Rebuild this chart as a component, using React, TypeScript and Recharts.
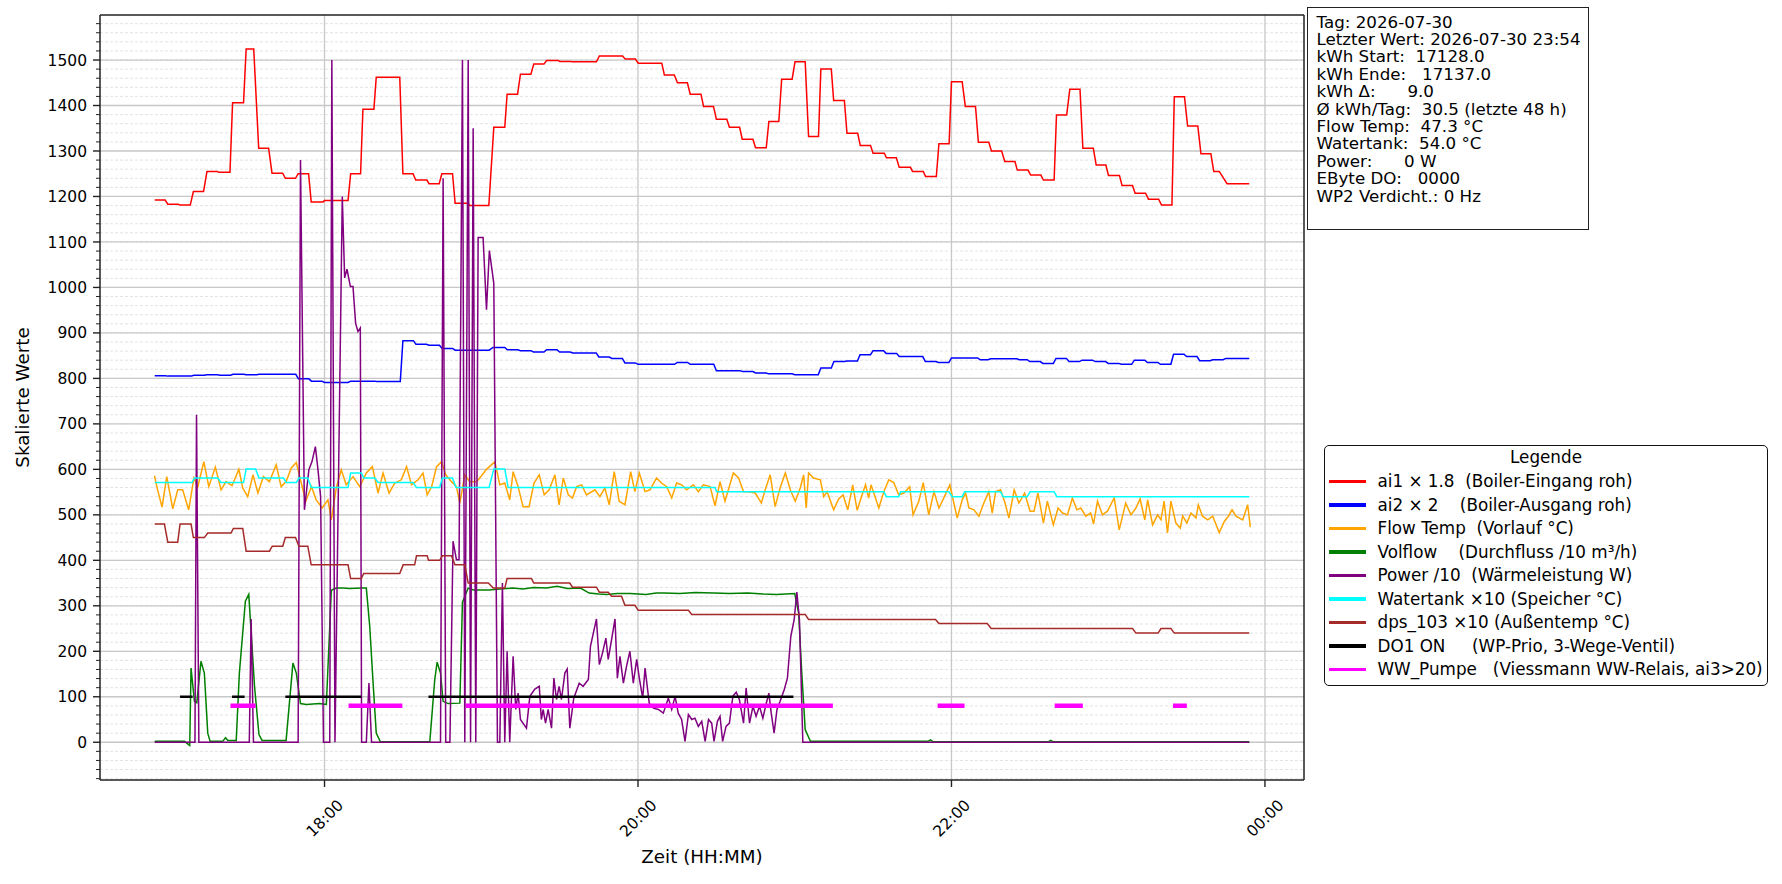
import { CartesianGrid, Legend, Line, LineChart, ReferenceLine, XAxis, YAxis } from "recharts";

// minutes since midnight, value
const boilerIn = [
  [1015, 1192], [1019, 1192], [1020, 1183], [1024, 1183], [1024.5, 1181], [1028.6, 1181], [1029.8, 1211], [1033.7, 1211],
  [1035, 1255], [1039, 1255], [1039.5, 1253], [1043.8, 1253], [1044.8, 1406], [1049, 1406], [1050, 1524], [1052.9, 1524],
  [1054.8, 1306], [1058.6, 1306], [1059.9, 1251], [1064, 1251], [1065, 1240], [1068.9, 1240], [1069.9, 1250], [1073.9, 1250],
  [1074.9, 1188], [1079.4, 1188], [1080, 1191], [1089, 1191], [1090, 1250], [1093.8, 1250], [1094.7, 1392], [1098.9, 1392],
  [1099.8, 1462], [1108.8, 1462], [1110, 1250], [1113.9, 1250], [1114.9, 1236], [1119.2, 1236], [1120, 1228], [1123.9, 1228],
  [1124.9, 1250], [1129, 1250], [1130, 1185], [1135, 1185], [1135.6, 1180], [1142.9, 1180], [1144.8, 1352], [1149, 1352],
  [1149.9, 1425], [1153.9, 1425], [1155, 1469], [1159, 1469], [1160.1, 1491], [1164, 1491], [1165, 1499], [1169.5, 1499],
  [1170, 1497], [1174.2, 1497], [1174.7, 1496], [1184.1, 1496], [1185.2, 1509], [1194.1, 1509], [1195.1, 1502], [1199, 1502],
  [1200.1, 1493], [1209.1, 1493], [1210.1, 1467], [1213.9, 1467], [1215.1, 1450], [1218.9, 1450], [1220, 1425], [1224.1, 1425],
  [1225.1, 1398], [1228.9, 1398], [1230, 1370], [1234, 1370], [1235, 1352], [1238.9, 1352], [1239.9, 1326], [1244, 1326],
  [1245, 1307], [1249.1, 1307], [1250.1, 1365], [1253.9, 1365], [1255, 1458], [1259, 1458], [1260.1, 1496], [1264, 1496],
  [1265.3, 1332], [1269.1, 1332], [1270, 1480], [1274, 1480], [1274.9, 1411], [1279, 1411], [1280, 1339], [1284.1, 1339],
  [1285.1, 1312], [1289, 1312], [1290, 1295], [1294.3, 1295], [1295.1, 1285], [1298.9, 1285], [1300, 1264], [1304.3, 1264],
  [1305.1, 1255], [1309.2, 1255], [1310.1, 1244], [1314.2, 1244], [1315.2, 1316], [1319.1, 1316], [1320, 1452], [1324.1, 1452],
  [1325.3, 1398], [1329.2, 1398], [1330.3, 1319], [1334.3, 1319], [1335.3, 1300], [1339.2, 1300], [1340.4, 1277], [1344.3, 1277],
  [1345.2, 1258], [1349.3, 1258], [1350.3, 1247], [1354.2, 1247], [1355.2, 1236], [1359.3, 1236], [1360.2, 1379], [1364.1, 1379],
  [1365.3, 1436], [1369.2, 1436], [1370.3, 1306], [1374.3, 1306], [1375.4, 1269], [1379.1, 1269], [1380.1, 1246], [1384.3, 1246],
  [1385.3, 1224], [1389.3, 1224], [1390.3, 1207], [1394.3, 1207], [1395.4, 1194], [1399.3, 1194], [1400.4, 1181], [1404.4, 1181],
  [1405.3, 1419], [1409.2, 1419], [1410.4, 1355], [1414.3, 1355], [1415.5, 1294], [1419.3, 1294], [1420.4, 1255], [1422.5, 1255],
  [1425.5, 1228], [1434, 1228],
];

const boilerOut = [
  [1015, 806], [1019, 806], [1020, 805], [1029, 805], [1030, 807], [1034, 807], [1035, 808], [1039, 808], [1040, 807], [1044, 807],
  [1045, 809], [1049, 809], [1050, 808], [1054, 808], [1055, 809], [1069, 809], [1070, 799], [1074, 799], [1075, 794], [1079, 794],
  [1080, 791], [1089, 791], [1090, 794], [1099, 794], [1100, 793], [1109, 793], [1110, 883], [1114, 883], [1115, 875], [1119, 875],
  [1120, 873], [1124, 873], [1125, 866], [1129, 866], [1130, 862], [1143, 862], [1144.5, 868], [1149, 868], [1150, 863], [1154, 863],
  [1155, 861], [1159, 861], [1160, 858], [1164, 858], [1165, 863], [1169, 863], [1170, 858], [1174, 858], [1175, 856], [1184, 856],
  [1185, 847], [1189, 847], [1190, 844], [1194, 844], [1195, 834], [1199, 834], [1200, 831], [1214, 831], [1215, 835], [1219, 835],
  [1220, 831], [1229, 831], [1230, 817], [1239, 817], [1240, 815], [1244, 815], [1245, 812], [1249, 812], [1250, 810], [1259, 810],
  [1260, 808], [1269, 808], [1270, 823], [1274, 823], [1275, 837], [1279, 837], [1280, 838], [1284, 838], [1285, 852], [1289, 852],
  [1290, 861], [1294, 861], [1295, 855], [1299, 855], [1300, 848], [1309, 848], [1310, 837], [1314, 837], [1315, 835], [1319, 835],
  [1320, 845], [1330, 845], [1331, 841], [1334, 841], [1335, 843], [1345, 843], [1346, 841], [1349, 841], [1350, 837], [1354, 837],
  [1355, 833], [1359, 833], [1360, 844], [1364, 844], [1365, 837], [1369, 837], [1370, 840], [1374, 840], [1375, 837], [1379, 837],
  [1380, 833], [1384, 833], [1385, 831], [1389, 831], [1390, 840], [1394, 840], [1395, 835], [1399, 835], [1400, 831], [1404, 831],
  [1405, 853], [1409, 853], [1410, 848], [1414, 848], [1415, 839], [1419, 839], [1420, 841], [1424, 841], [1425, 844], [1434, 844],
];

const flowTemp = [
  [1014.9, 586], [1016.1, 555], [1017.8, 517], [1019.6, 584], [1021.9, 513], [1023.8, 555], [1025.7, 555], [1028, 511],
  [1030, 581], [1031.5, 562], [1033.8, 617], [1035.7, 562], [1038.2, 605], [1040.4, 555], [1042.3, 573], [1044.6, 564],
  [1047.2, 600], [1048.7, 559], [1050.6, 540], [1052.6, 588], [1054.5, 548], [1056.6, 584], [1058.9, 573], [1061.5, 610],
  [1063.4, 562], [1065.3, 573], [1067.3, 603], [1069.2, 615], [1071.1, 570], [1072.8, 530], [1075, 562], [1076.8, 533],
  [1079.1, 515], [1081.3, 533], [1082.6, 489], [1084.5, 559], [1086.4, 599], [1088.3, 566], [1090.9, 584], [1093.5, 562],
  [1096, 592], [1098.3, 606], [1100.5, 548], [1102.4, 592], [1104.7, 548], [1106.9, 570], [1109.4, 577], [1111.4, 606],
  [1113.3, 566], [1115.8, 577], [1117.7, 592], [1119.3, 544], [1121, 562], [1122.9, 606], [1124.8, 617], [1126.4, 588],
  [1128.6, 573], [1130.5, 562], [1131.8, 526], [1133.7, 588], [1135.6, 573], [1138.2, 573], [1140.1, 586], [1142, 600],
  [1145.2, 617], [1147.1, 566], [1149, 570], [1150.9, 533], [1152.2, 595], [1154.1, 562], [1156, 518], [1158.3, 518],
  [1160.2, 570], [1162.2, 588], [1164.1, 544], [1166, 555], [1168.2, 588], [1169.8, 522], [1171.4, 581], [1173.3, 544],
  [1174.9, 537], [1176.5, 562], [1178.4, 566], [1180.3, 544], [1183.5, 555], [1185.4, 540], [1187.3, 559], [1189, 522],
  [1190.9, 595], [1192.8, 530], [1195, 522], [1197.2, 595], [1198.8, 551], [1200.5, 592], [1202.7, 551], [1204.6, 555],
  [1207.1, 581], [1209, 570], [1211, 562], [1212.9, 537], [1214.8, 570], [1216.7, 566], [1218.6, 555], [1221.2, 566],
  [1223.1, 551], [1225, 566], [1227.6, 562], [1229.5, 520], [1231.4, 573], [1233.3, 530], [1236.5, 592], [1238.5, 581],
  [1240.4, 551], [1242.3, 551], [1244.9, 548], [1247.2, 526], [1248.7, 555], [1250.6, 588], [1252.5, 518], [1254.4, 559],
  [1256.4, 592], [1258.3, 555], [1260.2, 530], [1262.1, 559], [1263.4, 588], [1264.4, 515], [1265.3, 592], [1267.2, 581],
  [1269.8, 577], [1271.1, 540], [1272.4, 551], [1274.9, 511], [1276.8, 535], [1278.5, 544], [1280.3, 511], [1282.2, 566],
  [1283.9, 510], [1285.8, 544], [1287.1, 566], [1288.3, 537], [1289.2, 566], [1292.2, 515], [1294.1, 551], [1296, 577],
  [1297.9, 571], [1299.8, 544], [1301.8, 548], [1304, 562], [1305.3, 500], [1307.5, 530], [1309.2, 571], [1311.3, 500],
  [1313.3, 551], [1315.2, 515], [1317.3, 540], [1319.4, 566], [1320.9, 526], [1322.2, 493], [1324.1, 533], [1325.4, 548],
  [1326.7, 515], [1328.6, 511], [1330.5, 497], [1332.4, 526], [1334.3, 551], [1335.6, 504], [1336.9, 551], [1338.8, 555],
  [1340.5, 526], [1342, 493], [1344, 555], [1345.8, 526], [1348, 548], [1350.1, 508], [1351.6, 508], [1353.1, 548],
  [1355.2, 482], [1356.7, 530], [1359, 478], [1360.8, 515], [1362.5, 504], [1364.4, 500], [1366.3, 537], [1368, 511],
  [1369.5, 515], [1371.4, 497], [1373.3, 504], [1374.4, 480], [1375.9, 530], [1377.8, 500], [1379.7, 508], [1382.3, 537],
  [1384.2, 467], [1386.7, 526], [1388.7, 500], [1390.6, 515], [1392.2, 535], [1394, 489], [1395.1, 533], [1397, 478],
  [1398.9, 500], [1400.2, 489], [1401.4, 530], [1402.7, 460], [1404, 530], [1405.9, 482], [1407.6, 471], [1408.5, 498],
  [1410.1, 482], [1411.7, 504], [1413.6, 493], [1414.5, 522], [1416.1, 497], [1418.1, 489], [1420, 497], [1422.5, 461],
  [1424.5, 486], [1426, 497], [1427.4, 511], [1428.9, 497], [1431.5, 489], [1433.4, 522], [1434.4, 473],
];

const volflow = [
  [1015, 2], [1026.4, 2], [1027.5, -3], [1028.4, -7], [1028.9, 163], [1030.2, 90], [1031.1, 87], [1032.7, 178], [1034, 152],
  [1035.3, 20], [1036.2, 2], [1041, 2], [1042.1, 10], [1043, 4], [1046.2, 4], [1047.4, 152], [1049.7, 310], [1051, 325],
  [1053.2, 123], [1054.9, 17], [1056.1, 4], [1065.3, 4], [1067.9, 174], [1069.2, 152], [1070.8, 85], [1073, 83], [1078.1, 85],
  [1080.7, 83], [1082.6, 334], [1084.5, 339], [1087.1, 339], [1089.6, 338], [1094.1, 339], [1096, 339], [1097.3, 255],
  [1098.6, 130], [1099.8, 20], [1101.4, 1], [1120.3, 1], [1122.2, 138], [1123.1, 176], [1124.4, 152], [1125.4, 90],
  [1127.3, 85], [1131.8, 86], [1132.8, 308], [1135, 339], [1137, 335], [1143, 335], [1147, 337], [1152, 339], [1156, 337],
  [1160, 340], [1165, 339], [1169, 343], [1173, 338], [1178, 339], [1181.3, 328], [1185, 326], [1188, 325], [1192, 327],
  [1197, 327], [1203, 325], [1207, 328], [1210, 328], [1216, 327], [1222, 329], [1229, 328], [1235, 327], [1242, 328],
  [1248, 326], [1253, 325], [1260, 327], [1261.5, 284], [1262.7, 152], [1264, 28], [1266, 2], [1311, 2], [1312, 5], [1313, 1],
  [1357, 1], [1358, 4], [1359, 1], [1434, 1],
];

const power = [
  [1015, 0], [1030.4, 0], [1031, 720], [1031.9, 0], [1051.2, 0], [1051.9, 271], [1052.8, 0], [1069.9, 0], [1070.8, 1280],
  [1072.3, 511], [1074, 599], [1075.2, 617], [1076.5, 650], [1077.5, 599], [1078.5, 540], [1079.6, 0], [1082, 0], [1082.8, 1500],
  [1084, 0], [1086.8, 1200], [1087.7, 1021], [1088.6, 1040], [1089.9, 1002], [1090.9, 1002], [1091.9, 921], [1092.8, 903],
  [1093.7, 911], [1094.2, 0], [1096, 0], [1097, 130], [1098, 0], [1124.4, 0], [1125.4, 1240], [1126.4, 0], [1128, 0],
  [1129.2, 442], [1130.5, 401], [1131.5, 401], [1132.8, 1500], [1133.7, 0], [1135, 1500], [1135.9, 0], [1136.9, 1350],
  [1137.9, 0], [1138.8, 1110], [1140.7, 1110], [1142, 951], [1143.1, 1081], [1144.8, 1009], [1146.2, 0], [1147.1, 0],
  [1148.1, 350], [1149, 0], [1149.9, 200], [1150.9, 0], [1152.2, 189], [1153.2, 72], [1154.1, 108], [1155, 50], [1157.3, 31],
  [1158.6, 101], [1160.5, 117], [1162.2, 123], [1163, 50], [1163.7, 72], [1164.6, 42], [1165.6, 72], [1166.9, 31], [1167.8, 141],
  [1168.8, 94], [1169.8, 123], [1170.7, 94], [1172, 152], [1172.9, 161], [1173.9, 31], [1175.4, 97], [1177.5, 130], [1179, 123],
  [1181, 138], [1181.8, 211], [1182.9, 240], [1184.1, 271], [1185.2, 171], [1186.4, 196], [1187.7, 229], [1188.6, 182],
  [1189.9, 226], [1191.2, 271], [1192.1, 141], [1193.1, 189], [1194.4, 130], [1195.6, 167], [1196.9, 200], [1198.2, 130],
  [1199.5, 182], [1200.5, 141], [1201.8, 97], [1202.7, 163], [1204.3, 86], [1205.9, 75], [1207.8, 72], [1209.7, 64],
  [1211.6, 97], [1212.9, 72], [1214.2, 101], [1215.4, 64], [1216.7, 50], [1218, 2], [1219.3, 61], [1220.6, 50], [1221.8, 53],
  [1223.1, 35], [1224.4, 46], [1225.7, 2], [1227, 50], [1228.2, 42], [1229.1, 2], [1230.4, 46], [1231.4, 57], [1232.4, 2],
  [1233.7, 35], [1235, 42], [1236.3, 101], [1237.6, 110], [1238.8, 94], [1240.4, 42], [1241.4, 119], [1242.7, 42], [1244, 79],
  [1245.2, 57], [1246.5, 79], [1247.8, 53], [1249, 83], [1250.1, 108], [1251, 64], [1252.1, 20], [1253.2, 72], [1254.4, 90],
  [1256, 116], [1257.2, 141], [1258.5, 233], [1259.8, 270], [1260.8, 330], [1261.8, 270], [1263.1, 0], [1434, 0],
];

const watertank = [
  [1015, 571], [1029.3, 571], [1030.2, 581], [1039.1, 581], [1040.4, 571], [1049, 571], [1050, 601], [1053.6, 601],
  [1054.9, 581], [1064.3, 581], [1065.3, 571], [1069.2, 571], [1070.2, 581], [1073.6, 581], [1074.9, 560], [1089, 560],
  [1090, 592], [1094.1, 592], [1095, 581], [1099.2, 581], [1100.5, 571], [1113.9, 571], [1115.2, 560], [1124.1, 560],
  [1125.1, 581], [1129, 581], [1130.3, 560], [1143, 560], [1144.8, 601], [1149, 601], [1150.3, 560], [1229.5, 560],
  [1230.1, 551], [1294.1, 551], [1295.1, 540], [1299.8, 540], [1300.5, 551], [1319, 551], [1320.3, 540], [1324.1, 540],
  [1325, 551], [1338.8, 551], [1339.8, 540], [1349, 540], [1350.1, 551], [1359.3, 551], [1360.3, 540], [1434, 540],
];

const outsideTemp = [
  [1015, 480], [1018.7, 480], [1020, 440], [1023.8, 440], [1024.7, 480], [1028.9, 480], [1029.8, 450], [1034, 450],
  [1035.3, 460], [1044.2, 460], [1045.1, 470], [1048.7, 470], [1050, 420], [1058.9, 420], [1060, 431], [1064, 431],
  [1065, 450], [1068.9, 450], [1070.2, 431], [1073.6, 431], [1074.9, 390], [1089, 390], [1090, 360], [1094.1, 360],
  [1095, 371], [1108.8, 371], [1110.1, 390], [1114.5, 390], [1115.2, 410], [1119.3, 410], [1119.8, 400], [1124.1, 400],
  [1125.1, 410], [1128.6, 410], [1129.9, 390], [1133.7, 390], [1135, 350], [1142.7, 350], [1144.6, 339], [1149, 339],
  [1149.9, 360], [1159.2, 360], [1160.1, 350], [1173.9, 350], [1174.9, 341], [1184.1, 341], [1185.2, 330], [1188.6, 330],
  [1189.9, 321], [1193.7, 321], [1195, 301], [1198.8, 301], [1200.1, 290], [1219.3, 290], [1220.6, 281], [1264, 281],
  [1265.3, 270], [1313.9, 270], [1315.2, 261], [1333.7, 261], [1335.2, 250], [1389.3, 250], [1390.6, 240], [1399.1, 240],
  [1400.2, 250], [1404, 250], [1405.3, 240], [1434, 240],
];

// on/off periods [start, end]
const do1On = [[1024.7, 1029.5], [1044.6, 1049.4], [1065, 1094.1], [1119.8, 1259.5]];
const wwPump = [[1044, 1053.6], [1089.2, 1109.8], [1134.1, 1274.6], [1314.7, 1325], [1359.5, 1370.3], [1404.8, 1410.1]];
const do1Level = 100;
const wwLevel = 80;

const timeTicks = [1080, 1200, 1320, 1440];
const timeLabels = ["18:00", "20:00", "22:00", "00:00"];
const valueTicks = [0, 100, 200, 300, 400, 500, 600, 700, 800, 900, 1000, 1100, 1200, 1300, 1400, 1500];
const minorTicks = Array.from({ length: 84 }, (_, i) => -80 + i * 20);

const infoLines = [
  "Tag: 2026-07-30",
  "Letzter Wert: 2026-07-30 23:54",
  "kWh Start:  17128.0",
  "kWh Ende:   17137.0",
  "kWh Δ:      9.0",
  "Ø kWh/Tag:  30.5 (letzte 48 h)",
  "Flow Temp:  47.3 °C",
  "Watertank:  54.0 °C",
  "Power:      0 W",
  "EByte DO:   0000",
  "WP2 Verdicht.: 0 Hz",
];

const toPts = (arr: number[][]) => arr.map(([t, v]) => ({ t, v }));
const toSegs = (arr: number[][], level: number) =>
  arr.flatMap(([a, b]) => [{ t: a, v: level }, { t: b, v: level }, { t: b + 0.01, v: null }]);

const series = [
  { key: "ai1", label: "ai1 × 1.8  (Boiler-Eingang roh)", color: "#ff0000", width: 1.5, data: toPts(boilerIn) },
  { key: "ai2", label: "ai2 × 2    (Boiler-Ausgang roh)", color: "#0000ff", width: 1.5, data: toPts(boilerOut) },
  { key: "flow", label: "Flow Temp  (Vorlauf °C)", color: "#ffa500", width: 1.5, data: toPts(flowTemp) },
  { key: "vol", label: "Volflow    (Durchfluss /10 m³/h)", color: "#008000", width: 1.5, data: toPts(volflow) },
  { key: "pow", label: "Power /10  (Wärmeleistung W)", color: "#800080", width: 1.5, data: toPts(power) },
  { key: "tank", label: "Watertank ×10 (Speicher °C)", color: "#00ffff", width: 1.5, data: toPts(watertank) },
  { key: "dps", label: "dps_103 ×10 (Außentemp °C)", color: "#a52a2a", width: 1.5, data: toPts(outsideTemp) },
  { key: "do1", label: "DO1 ON     (WP-Prio, 3-Wege-Ventil)", color: "#000000", width: 2.5, data: toSegs(do1On, do1Level) },
  { key: "ww", label: "WW_Pumpe   (Viessmann WW-Relais, ai3>20)", color: "#ff00ff", width: 4.5, data: toSegs(wwPump, wwLevel) },
];

const FONT = "'DejaVu Sans', sans-serif";
const PL = 100;
const PB = 780;
const X_DOMAIN = [994.05, 1454.95];
const Y_DOMAIN = [-83, 1599];

const XTick = (props: any) => {
  const { x, payload } = props;
  const label = timeLabels[timeTicks.indexOf(payload.value)];
  return (
    <g>
      <line x1={x} x2={x} y1={PB} y2={PB + 7} stroke="#222" strokeWidth={1.4} />
      <text x={x} y={818} textAnchor="middle" dy="0.36em" fontSize={15.5} fontFamily={FONT} fill="#000"
        transform={`rotate(-45 ${x} 818)`}>{label}</text>
    </g>
  );
};

const YTick = (props: any) => {
  const { y, payload } = props;
  const major = payload.value % 100 === 0;
  return (
    <g>
      <line x1={PL - (major ? 7 : 4)} x2={PL} y1={y} y2={y} stroke="#222" strokeWidth={major ? 1.4 : 1} />
      {major && (
        <text x={PL - 13} y={y} dy="0.36em" textAnchor="end" fontSize={15.5} fontFamily={FONT} fill="#000">
          {payload.value}
        </text>
      )}
    </g>
  );
};

const LegendBox = () => (
  <div style={{ width: 444, height: 241, boxSizing: "border-box", border: "1.5px solid #111", borderRadius: 5,
    background: "#fff", fontFamily: FONT, fontSize: 16.8, color: "#000", position: "relative" }}>
    <div style={{ position: "absolute", top: 0, left: 0, right: 0, textAlign: "center", lineHeight: "23.5px" }}>Legende</div>
    {series.map((s, i) => (
      <div key={s.key} style={{ position: "absolute", left: 3.5, top: 23.5 + i * 23.5, height: 23.5,
        display: "flex", alignItems: "center", whiteSpace: "pre" }}>
        <span style={{ display: "inline-block", width: 37, height: 3.5, background: s.color, marginRight: 12 }} />
        {s.label}
      </div>
    ))}
  </div>
);

export default function App() {
  return (
    <div style={{ position: "relative", width: 1782, height: 884, fontFamily: FONT, background: "#fff" }}>
      <style>{"body{margin:0}"}</style>
      <LineChart width={1782} height={884} margin={{ top: 15, right: 478, bottom: 0, left: 0 }}>
        <CartesianGrid horizontalValues={minorTicks} vertical={false} stroke="#dcdcdc" strokeWidth={0.8} strokeDasharray="3 2" />
        <CartesianGrid horizontalValues={valueTicks} verticalValues={timeTicks} stroke="#c8c8c8" strokeWidth={1.3} />
        <XAxis type="number" dataKey="t" domain={X_DOMAIN} ticks={timeTicks} interval={0} allowDataOverflow
          tick={<XTick />} tickLine={false} axisLine={{ stroke: "#222", strokeWidth: 1.5 }} height={104}
          label={{ content: (p: any) => (
            <text x={p.viewBox.x + p.viewBox.width / 2} y={863} textAnchor="middle" fontSize={18.3} fontFamily={FONT} fill="#000">
              Zeit (HH:MM)
            </text>
          ) }} />
        <YAxis type="number" domain={Y_DOMAIN} ticks={minorTicks} interval={0} allowDataOverflow
          tick={<YTick />} tickLine={false} axisLine={{ stroke: "#222", strokeWidth: 1.5 }} width={100}
          label={{ content: (p: any) => (
            <text x={22} y={p.viewBox.y + p.viewBox.height / 2} textAnchor="middle" dy="0.36em" fontSize={18.3} fontFamily={FONT}
              fill="#000" transform={`rotate(-90 22 ${p.viewBox.y + p.viewBox.height / 2})`}>
              Skalierte Werte
            </text>
          ) }} />
        {series.map((s) => (
          <Line key={s.key} data={s.data} dataKey="v" type="linear" stroke={s.color} strokeWidth={s.width}
            dot={false} activeDot={false} isAnimationActive={false} connectNulls={false} />
        ))}
        <ReferenceLine y={Y_DOMAIN[1]} stroke="#222" strokeWidth={1.5} ifOverflow="visible" />
        <ReferenceLine x={X_DOMAIN[1]} stroke="#222" strokeWidth={1.5} ifOverflow="visible" />
        <Legend layout="vertical" align="center" verticalAlign="middle" content={<LegendBox />}
          wrapperStyle={{ left: 1324, top: 445, width: 444, height: 241 }} />
      </LineChart>
      <div style={{ position: "absolute", left: 1307, top: 7, width: 282, height: 223, boxSizing: "border-box",
        border: "1.5px solid #222", background: "#fff", padding: "5.5px 0 0 8.5px", fontSize: 16.7, lineHeight: "17.4px",
        color: "#000", whiteSpace: "pre" }}>
        {infoLines.map((l) => <div key={l}>{l}</div>)}
      </div>
    </div>
  );
}
